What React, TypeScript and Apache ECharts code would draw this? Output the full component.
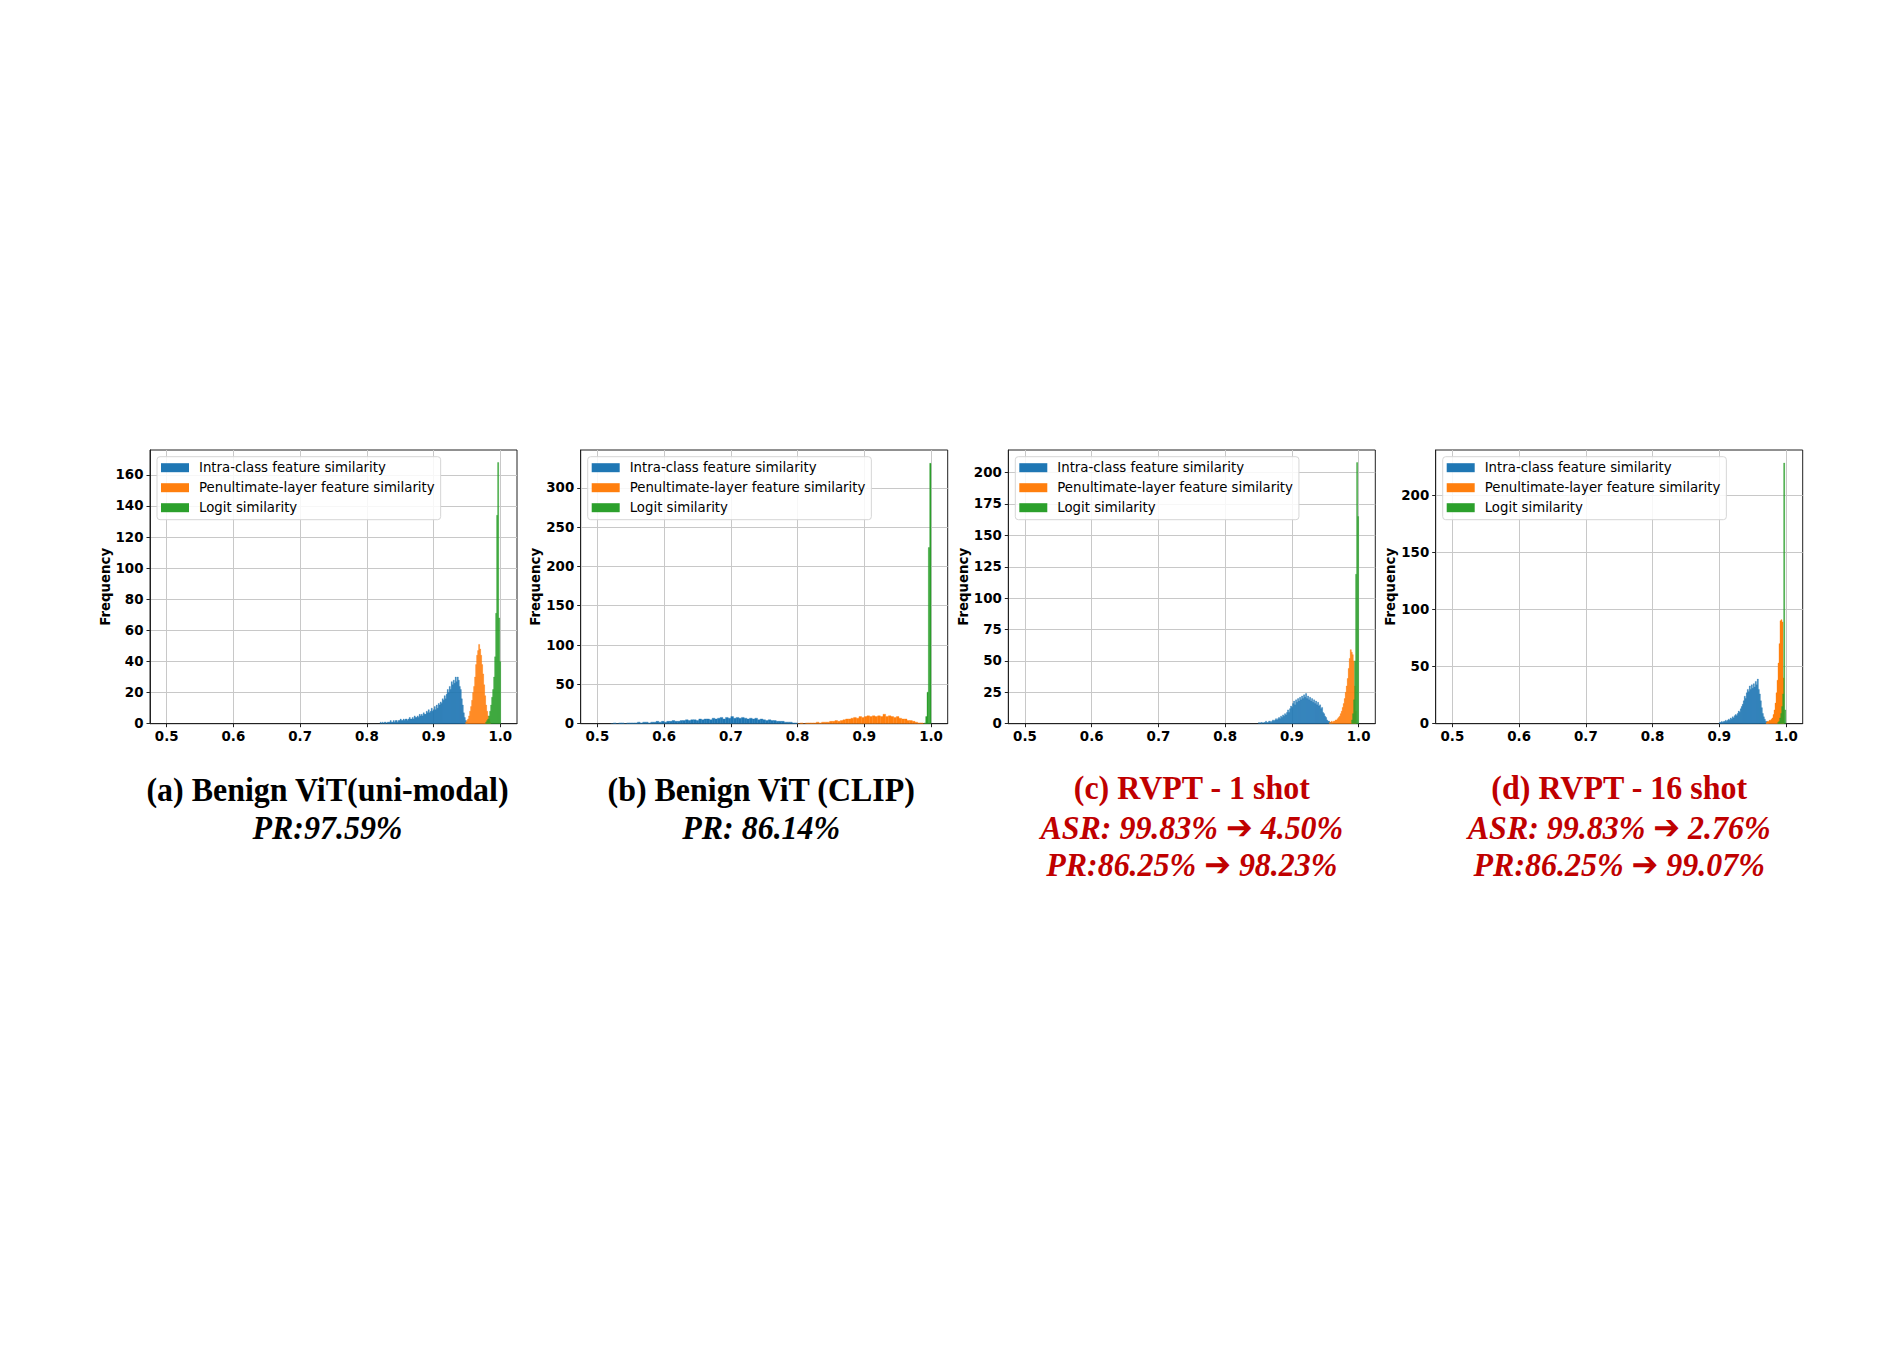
import React, { useEffect, useRef } from 'react';
import * as echarts from 'echarts';

// ---------- data ----------
const seriesNames = ['Intra-class feature similarity', 'Penultimate-layer feature similarity', 'Logit similarity'];
const seriesColors = ['#1f77b4', '#ff7f0e', '#2ca02c'];
const xTicks = [0.5, 0.6, 0.7, 0.8, 0.9, 1.0];

const yTicksA = [0, 20, 40, 60, 80, 100, 120, 140, 160];
const yTicksB = [0, 50, 100, 150, 200, 250, 300];
const yTicksC = [0, 25, 50, 75, 100, 125, 150, 175, 200];
const yTicksD = [0, 50, 100, 150, 200];

// Panel (a) histograms: first bin edge, bin width, counts
const aIntraStart = 0.82;
const aIntraWidth = 0.0015;
const aIntraCounts = [1, 0, 1, 0, 1, 1, 0, 1, 1, 1,
  2, 1, 1, 2, 1, 2, 2, 1, 2, 2,
  3, 2, 2, 3, 2, 3, 3, 2, 3, 4,
  3, 3, 4, 3, 5, 4, 4, 5, 4, 6,
  5, 6, 5, 7, 6, 6, 8, 7, 9, 7,
  8, 10, 8, 9, 11, 9, 12, 10, 13, 12,
  14, 13, 16, 15, 18, 16, 19, 22, 20, 24,
  22, 27, 25, 28, 26, 30, 27, 30, 28, 24,
  22, 16, 12, 7, 4, 2, 1];
const aPenultStart = 0.948;
const aPenultWidth = 0.0015;
const aPenultCounts = [1, 2, 3, 5, 8, 11, 15, 20, 24, 30, 38, 44, 47, 51, 48, 44, 38, 32, 25, 18, 12, 8, 5, 3, 1];
const aLogitStart = 0.978;
const aLogitWidth = 0.0015;
const aLogitCounts = [1, 2, 3, 5, 8, 12, 17, 22, 30, 43, 71, 134, 168, 68, 40];

// Panel (b)
const bIntraStart = 0.52;
const bIntraWidth = 0.004;
const bIntraCounts = [0, 1, 0, 1, 1, 0, 1, 1, 1, 1,
  2, 1, 2, 2, 1, 2, 2, 3, 2, 3,
  2, 3, 3, 4, 3, 3, 4, 4, 5, 4,
  5, 5, 4, 6, 5, 6, 6, 5, 7, 6,
  7, 8, 6, 8, 7, 9, 7, 8, 7, 8,
  7, 6, 7, 6, 7, 5, 6, 5, 4, 5,
  4, 4, 3, 3, 3, 2, 2, 2, 1, 1];
const bPenultStart = 0.80;
const bPenultWidth = 0.004;
const bPenultCounts = [0, 1, 0, 1, 1, 1, 1, 2, 1, 2,
  2, 2, 3, 3, 4, 3, 4, 5, 6, 6,
  7, 8, 7, 9, 8, 9, 10, 9, 10, 9,
  10, 9, 12, 9, 10, 9, 8, 9, 7, 6,
  6, 4, 4, 3, 2, 1, 1, 0];
const bLogitStart = 0.99;
const bLogitWidth = 0.002;
const bLogitCounts = [1, 9, 40, 224, 331];

// Panel (c)
const cIntraStart = 0.85;
const cIntraWidth = 0.0015;
const cIntraCounts = [1, 0, 1, 1, 0, 1, 1, 2, 1, 1,
  2, 2, 1, 2, 3, 2, 3, 4, 3, 4,
  5, 4, 6, 5, 7, 6, 8, 7, 9, 11,
  9, 12, 14, 13, 16, 18, 15, 19, 17, 20,
  18, 21, 19, 22, 20, 23, 21, 24, 20, 22,
  19, 21, 18, 20, 17, 19, 16, 18, 15, 17,
  14, 15, 12, 13, 9, 8, 6, 5, 3, 2,
  2, 1, 1, 0];
const cPenultStart = 0.956;
const cPenultWidth = 0.0015;
const cPenultCounts = [1, 1, 2, 1, 2, 2, 3, 3, 4, 5, 6, 8, 10, 13, 16, 20, 25, 30, 36, 44, 52, 59, 57, 55, 50, 30, 10];
const cLogitStart = 0.9895;
const cLogitWidth = 0.0015;
const cLogitCounts = [3, 8, 19, 50, 119, 208, 165];

// Panel (d)
const dIntraStart = 0.9;
const dIntraWidth = 0.0015;
const dIntraCounts = [1, 1, 2, 1, 2, 2, 3, 2, 3, 4,
  3, 5, 4, 6, 5, 7, 8, 7, 9, 11,
  10, 13, 15, 17, 20, 24, 22, 27, 30, 28,
  33, 30, 34, 31, 35, 32, 37, 34, 39, 30,
  26, 20, 14, 9, 6, 4, 2, 2, 1];
const dPenultStart = 0.97;
const dPenultWidth = 0.0015;
const dPenultCounts = [1, 2, 2, 3, 3, 4, 5, 8, 12, 18, 27, 38, 53, 70, 90, 91, 89, 40];
const dLogitStart = 0.9875;
const dLogitWidth = 0.0015;
const dLogitCounts = [1, 2, 5, 9, 15, 26, 228, 12];

const yMaxes = [176, 348, 218, 239.4];

const captionTitles = ['(a) Benign ViT(uni-modal)', '(b) Benign ViT (CLIP)', '(c) RVPT - 1 shot', '(d) RVPT - 16 shot'];
const captionSubs = [
  ['PR:97.59%'],
  ['PR: 86.14%'],
  ['ASR: 99.83% \u2794 4.50%', 'PR:86.25% \u2794 98.23%'],
  ['ASR: 99.83% \u2794 2.76%', 'PR:86.25% \u2794 99.07%'],
];
const captionColors = ['#000000', '#000000', '#c00000', '#c00000'];

// ---------- layout ----------
const gridLefts = [150, 580.7, 1008.3, 1435.7];
const gridTop = 450;
const gridWidth = 367;
const gridHeight = 273.7;

function bins(start: number, width: number, counts: number[]) {
  return counts.map((c, i) => [start + i * width, start + (i + 1) * width, c]);
}

const panelHists = [
  [bins(aIntraStart, aIntraWidth, aIntraCounts), bins(aPenultStart, aPenultWidth, aPenultCounts), bins(aLogitStart, aLogitWidth, aLogitCounts)],
  [bins(bIntraStart, bIntraWidth, bIntraCounts), bins(bPenultStart, bPenultWidth, bPenultCounts), bins(bLogitStart, bLogitWidth, bLogitCounts)],
  [bins(cIntraStart, cIntraWidth, cIntraCounts), bins(cPenultStart, cPenultWidth, cPenultCounts), bins(cLogitStart, cLogitWidth, cLogitCounts)],
  [bins(dIntraStart, dIntraWidth, dIntraCounts), bins(dPenultStart, dPenultWidth, dPenultCounts), bins(dLogitStart, dLogitWidth, dLogitCounts)],
];
const panelYTicks = [yTicksA, yTicksB, yTicksC, yTicksD];

const tickFont = { fontFamily: 'DejaVu Sans', fontWeight: 'bold' as const, fontSize: 13.4, color: '#000' };
const frameColor = '#222';
const gridColor = '#c8c8c8';

function renderBar(params: any, api: any) {
  const x0 = api.value(0);
  const x1 = api.value(1);
  const y = api.value(2);
  const p0 = api.coord([x0, 0]);
  const p1 = api.coord([x1, y]);
  const st = api.style();
  return {
    type: 'rect',
    shape: { x: p0[0], y: p1[1], width: p1[0] - p0[0], height: p0[1] - p1[1] },
    style: { ...st, stroke: st.fill, lineWidth: 0.35 },
  };
}

export default function App() {
  const ref = useRef<HTMLDivElement>(null);
  useEffect(() => {
    if (!ref.current) return;
    const chart = echarts.init(ref.current, null, { renderer: 'svg' });
    const grids = gridLefts.map((l) => ({
      left: l, top: gridTop, width: gridWidth, height: gridHeight,
      show: true, borderColor: frameColor, borderWidth: 1, backgroundColor: 'rgba(0,0,0,0)',
    }));
    const xAxes = gridLefts.map((_, i) => ({
      type: 'value', gridIndex: i, min: 0.475, max: 1.025,
      axisLine: { show: true, onZero: false, lineStyle: { color: frameColor, width: 1 } },
      axisTick: { show: true, customValues: xTicks, length: 3.5, lineStyle: { color: frameColor } },
      axisLabel: { customValues: xTicks, formatter: (v: number) => v.toFixed(1), margin: 6.5, ...tickFont },
      splitLine: { show: true, lineStyle: { color: gridColor, width: 1 } },
    }));
    const yAxes = gridLefts.map((_, i) => ({
      type: 'value', gridIndex: i, min: 0, max: yMaxes[i],
      name: 'Frequency', nameLocation: 'middle', nameGap: 38, nameRotate: 90,
      nameTextStyle: { fontFamily: 'DejaVu Sans', fontWeight: 'bold', fontSize: 13.3, color: '#000' },
      axisLine: { show: true, onZero: false, lineStyle: { color: frameColor, width: 1 } },
      axisTick: { show: true, customValues: panelYTicks[i], length: 3.5, lineStyle: { color: frameColor } },
      axisLabel: { customValues: panelYTicks[i], margin: 6.5, ...tickFont },
      splitLine: { show: true, lineStyle: { color: gridColor, width: 1 } },
    }));
    const legends = gridLefts.map((l) => ({
      left: l + 7, top: gridTop + 6.7, orient: 'vertical', data: seriesNames,
      icon: 'rect', itemWidth: 28, itemHeight: 9, itemGap: 6,
      padding: [4, 6, 5, 4],
      backgroundColor: 'rgba(255,255,255,0.85)', borderColor: '#d6d6d6', borderWidth: 1, borderRadius: 3,
      selectedMode: false,
      textStyle: { fontFamily: 'DejaVu Sans', fontSize: 13.3, color: '#000', lineHeight: 14, padding: [0, 0, 0, 5] },
    }));
    const series: any[] = [];
    panelHists.forEach((hists, i) => {
      hists.forEach((data, k) => {
        series.push({
          type: 'custom', name: seriesNames[k], xAxisIndex: i, yAxisIndex: i,
          itemStyle: { color: seriesColors[k] },
          encode: { x: [0, 1], y: 2 },
          data, renderItem: renderBar, clip: true,
        });
      });
    });
    const graphics: any[] = [];
    gridLefts.forEach((l, i) => {
      const cx = l + gridWidth / 2 - (i === 0 ? 6 : i === 1 ? 3 : 0);
      const lines = [captionTitles[i], ...captionSubs[i]];
      const ys = i < 2 ? [790, 828] : [787.5, 827.5, 864.5];
      lines.forEach((t, j) => {
        graphics.push({
          type: 'text', x: cx, y: ys[j], scaleX: 0.94,
          style: {
            text: t, fill: captionColors[i],
            fontFamily: '"Liberation Serif", "Times New Roman", "DejaVu Sans", serif',
            fontWeight: 'bold', fontStyle: j === 0 ? 'normal' : 'italic', fontSize: 34,
            align: 'center', verticalAlign: 'middle',
          },
        });
      });
    });
    chart.setOption({
      animation: false,
      backgroundColor: '#ffffff',
      grid: grids, xAxis: xAxes, yAxis: yAxes, legend: legends, series, graphic: graphics,
    });
    return () => chart.dispose();
  }, []);
  return <div ref={ref} style={{ position: 'absolute', left: 0, top: 0, width: 1903, height: 1345, background: '#fff' }} />;
}
